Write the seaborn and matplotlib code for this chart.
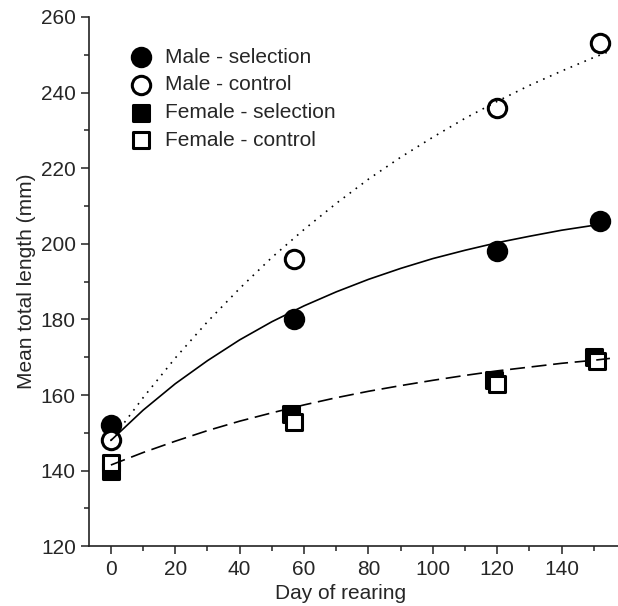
import numpy as np
import pandas as pd
import seaborn as sns
import matplotlib.pyplot as plt

# group means
days_male_sel = [0, 57, 120, 152]
len_male_sel = [152, 180, 198, 206]
days_male_ctl = [0, 57, 120, 152]
len_male_ctl = [148, 196, 236, 253]
days_fem_sel = [0, 56, 119, 150]
len_fem_sel = [140, 155, 164, 170]
days_fem_ctl = [0, 57, 120, 151]
len_fem_ctl = [142, 153, 163, 169]

# fitted growth curves, every 10 days
curve_days = [0, 10, 20, 30, 40, 50, 60, 70, 80, 90, 100, 110, 120, 130, 140, 150]
curve_male_sel = [148.0, 156.0, 163.0, 169.1, 174.6, 179.4, 183.6, 187.3,
                  190.6, 193.5, 196.1, 198.3, 200.3, 202.0, 203.6, 204.9]
curve_male_ctl = [148.0, 159.3, 169.8, 179.4, 188.2, 196.4, 203.8, 210.7,
                  217.1, 222.9, 228.2, 233.2, 237.7, 241.9, 245.7, 249.3]
curve_female = [141.5, 144.8, 147.8, 150.6, 153.1, 155.3, 157.4, 159.3,
                161.0, 162.5, 163.9, 165.2, 166.4, 167.4, 168.4, 169.2]
end_male_sel = (152, 205.2)
end_male_ctl = (154, 250.6)
end_female = (155, 169.7)

sns.set_style('ticks')
plt.rcParams['font.family'] = ['Liberation Sans', 'DejaVu Sans']
plt.rcParams['font.size'] = 15

fig = plt.figure(figsize=(6.18, 6.06), dpi=100)
ax = fig.add_axes([0.144, 0.0985, 0.856, 0.8735])

male_sel = pd.DataFrame({'day': days_male_sel, 'len': len_male_sel})
male_ctl = pd.DataFrame({'day': days_male_ctl, 'len': len_male_ctl})
fem_sel = pd.DataFrame({'day': days_fem_sel, 'len': len_fem_sel})
fem_ctl = pd.DataFrame({'day': days_fem_ctl, 'len': len_fem_ctl})

circ = dict(s=175, linewidth=2.2, edgecolor='black', zorder=2)
sq = dict(s=140, linewidth=2.2, edgecolor='black', zorder=2)
sns.scatterplot(data=male_sel, x='day', y='len', marker='o', color='black',
                label='Male - selection', ax=ax, **circ)
sns.scatterplot(data=male_ctl, x='day', y='len', marker='o', color='white',
                label='Male - control', ax=ax, **circ)
sns.scatterplot(data=fem_sel, x='day', y='len', marker='s', color='black',
                label='Female - selection', ax=ax, **sq)
sns.scatterplot(data=fem_ctl, x='day', y='len', marker='s', color='white',
                label='Female - control', ax=ax, **sq)

def curve_frame(vals, end):
    return pd.DataFrame({'day': curve_days + [end[0]], 'len': vals + [end[1]]})

sns.lineplot(data=curve_frame(curve_male_sel, end_male_sel), x='day', y='len',
             color='black', lw=1.2, ls='-', zorder=3, ax=ax, legend=False)
sns.lineplot(data=curve_frame(curve_male_ctl, end_male_ctl), x='day', y='len',
             color='black', lw=1.2, ls=(0, (1, 3.5)), zorder=3, ax=ax, legend=False)
sns.lineplot(data=curve_frame(curve_female, end_female), x='day', y='len',
             color='black', lw=1.2, ls=(0, (9, 4)), zorder=3, ax=ax, legend=False)

ax.set_xlim(-6.8, 157.5)
ax.set_ylim(120, 260)
ax.set_xticks(np.arange(0, 141, 20))
ax.set_xticks(np.arange(10, 151, 20), minor=True)
ax.set_yticks(np.arange(120, 261, 20))
ax.set_yticks(np.arange(130, 251, 20), minor=True)
ax.tick_params(which='major', length=5.5, width=1.1, pad=4, labelsize=15, color='#222222')
ax.tick_params(which='minor', length=3.5, width=1.1, color='#222222')
for side in ['top', 'right']:
    ax.spines[side].set_visible(False)
for side in ['left', 'bottom']:
    ax.spines[side].set_linewidth(1.2)
    ax.spines[side].set_color('#222222')

ax.set_xlabel('Day of rearing', fontsize=15)
ax.set_ylabel('Mean total length (mm)', fontsize=15)
ax.xaxis.set_label_coords(0.476, -0.071)
ax.yaxis.set_label_coords(-0.1, 0.5)

ax.legend(loc='upper left', bbox_to_anchor=(0.044, 0.958), frameon=False,
          fontsize=15, handletextpad=0.12, labelspacing=0.42, borderaxespad=0,
          markerscale=1.0)

fig.savefig('out.png', dpi=100)
